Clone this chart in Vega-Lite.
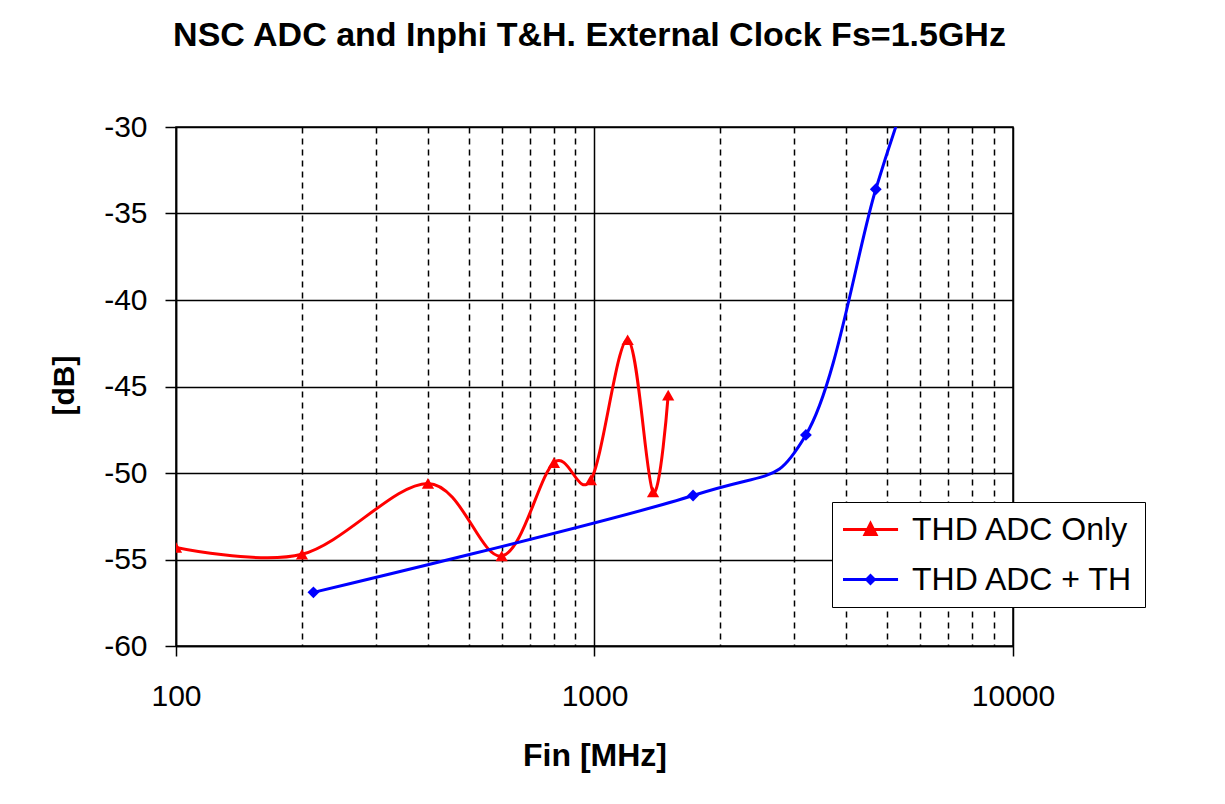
{
  "$schema": "https://vega.github.io/schema/vega-lite/v6.json",
  "width": 837,
  "height": 519,
  "autosize": "none",
  "padding": {"left": 176, "top": 127, "right": 212, "bottom": 158},
  "background": "white",
  "title": {
    "text": "NSC ADC and Inphi T&H. External Clock Fs=1.5GHz",
    "font": "Liberation Sans",
    "fontSize": 34,
    "fontWeight": "bold",
    "color": "black",
    "anchor": "middle",
    "frame": "group",
    "baseline": "alphabetic",
    "offset": 32,
    "dx": -5
  },
  "data": {
    "values": [
      {"fin": 100, "thd": -54.3, "series": "THD ADC Only"},
      {"fin": 200, "thd": -54.7, "series": "THD ADC Only"},
      {"fin": 400, "thd": -50.6, "series": "THD ADC Only"},
      {"fin": 600, "thd": -54.8, "series": "THD ADC Only"},
      {"fin": 800, "thd": -49.4, "series": "THD ADC Only"},
      {"fin": 980, "thd": -50.4, "series": "THD ADC Only"},
      {"fin": 1200, "thd": -42.3, "series": "THD ADC Only"},
      {"fin": 1380, "thd": -51.1, "series": "THD ADC Only"},
      {"fin": 1500, "thd": -45.5, "series": "THD ADC Only"},
      {"fin": 213, "thd": -56.9, "series": "THD ADC + TH"},
      {"fin": 1720, "thd": -51.3, "series": "THD ADC + TH"},
      {"fin": 3200, "thd": -47.8, "series": "THD ADC + TH"},
      {"fin": 4700, "thd": -33.6, "series": "THD ADC + TH"},
      {"fin": 6000, "thd": -26.0, "series": "THD ADC + TH"}
    ]
  },
  "encoding": {
    "x": {
      "field": "fin",
      "type": "quantitative",
      "scale": {"type": "log", "domain": [100, 10000], "nice": false},
      "axis": {
        "values": [100, 200, 300, 400, 500, 600, 700, 800, 900, 1000, 2000, 3000, 4000, 5000, 6000, 7000, 8000, 9000, 10000],
        "format": "d",
        "labelExpr": "indexof([100, 1000, 10000], datum.value) >= 0 ? datum.label : ''",
        "labelFont": "Liberation Sans",
        "labelFontSize": 30,
        "labelColor": "black",
        "labelBaseline": "alphabetic",
        "labelPadding": 49,
        "labelFlush": false,
        "labelOverlap": false,
        "tickSize": 10,
        "tickWidth": 1.5,
        "tickColor": {"condition": {"test": "indexof([100, 1000, 10000], datum.value) >= 0", "value": "black"}, "value": "transparent"},
        "domainColor": "black",
        "domainWidth": 1.5,
        "grid": true,
        "gridColor": "black",
        "gridWidth": 1.5,
        "gridOpacity": 1,
        "gridDash": {"condition": {"test": "indexof([100, 1000, 10000], datum.value) >= 0", "value": []}, "value": [6, 5]},
        "title": "Fin [MHz]",
        "titleFont": "Liberation Sans",
        "titleFontSize": 32,
        "titleFontWeight": "bold",
        "titleColor": "black",
        "titleBaseline": "alphabetic",
        "titleAlign": "center",
        "titleX": 418.5,
        "titleY": 119
      }
    },
    "y": {
      "field": "thd",
      "type": "quantitative",
      "scale": {"domain": [-60, -30], "nice": false, "zero": false},
      "axis": {
        "values": [-60, -55, -50, -45, -40, -35, -30],
        "labelExpr": "'' + datum.value",
        "labelFont": "Liberation Sans",
        "labelFontSize": 30,
        "labelColor": "black",
        "labelPadding": 18,
        "labelFlush": false,
        "labelOverlap": false,
        "tickSize": 11,
        "tickWidth": 1.5,
        "tickColor": "black",
        "domainColor": "black",
        "domainWidth": 1.5,
        "grid": true,
        "gridColor": "black",
        "gridWidth": 1.5,
        "gridOpacity": 1,
        "title": "[dB]",
        "titleFont": "Liberation Sans",
        "titleFontSize": 30,
        "titleFontWeight": "bold",
        "titleColor": "black",
        "titleAngle": -90,
        "titleBaseline": "alphabetic",
        "titleAlign": "center",
        "titleX": -103,
        "titleY": 258
      }
    },
    "color": {
      "field": "series",
      "type": "nominal",
      "scale": {"domain": ["THD ADC Only", "THD ADC + TH"], "range": ["#ff0000", "#0000ff"]},
      "legend": {
        "orient": "none",
        "legendX": 656,
        "legendY": 375,
        "title": null,
        "labelFont": "Liberation Sans",
        "labelFontSize": 32,
        "labelColor": "black",
        "labelLimit": 0,
        "strokeColor": "black",
        "fillColor": "white",
        "padding": 11,
        "symbolSize": 900,
        "symbolStrokeWidth": 3,
        "symbolOpacity": 1,
        "labelOffset": 36,
        "rowPadding": 17
      }
    }
  },
  "layer": [
    {
      "mark": {"type": "line", "interpolate": "cardinal", "tension": 0, "strokeWidth": 3, "clip": true}
    },
    {
      "transform": [{"filter": "datum.series === 'THD ADC Only'"}],
      "mark": {"type": "point", "shape": "triangle-up", "filled": true, "size": 150, "opacity": 1, "clip": true},
      "encoding": {"color": {"value": "#ff0000"}}
    },
    {
      "transform": [{"filter": "datum.series === 'THD ADC + TH'"}],
      "mark": {"type": "point", "shape": "diamond", "filled": true, "size": 140, "opacity": 1, "clip": true},
      "encoding": {"color": {"value": "#0000ff"}}
    },
    {
      "transform": [{"filter": "datum.thd > -30"}],
      "mark": {"type": "point", "filled": false, "opacity": 1, "strokeWidth": 3, "clip": true},
      "encoding": {
        "shape": {
          "field": "series",
          "type": "nominal",
          "scale": {
            "domain": ["THD ADC Only", "THD ADC + TH"],
            "range": [
              "M-1.1,0H2.57M0.367,0.333L1.1,0.333L0.733,-0.4ZM0.586,0.183L0.88,0.183L0.733,-0.11Z",
              "M-1.1,0H2.57M0.476,0L0.733,-0.257L0.99,0L0.733,0.257ZM0.623,0L0.733,-0.11L0.843,0L0.733,0.11Z"
            ]
          },
          "legend": {
            "orient": "none",
            "legendX": 656,
            "legendY": 375,
            "title": null,
            "labelFont": "Liberation Sans",
            "labelFontSize": 32,
            "labelColor": "black",
            "labelLimit": 0,
            "strokeColor": "black",
            "fillColor": "white",
            "padding": 11,
            "symbolSize": 900,
            "symbolStrokeWidth": 3,
            "symbolOpacity": 1,
            "labelOffset": 36,
            "rowPadding": 17
          }
        }
      }
    }
  ],
  "config": {
    "view": {"stroke": "black", "strokeWidth": 1.5, "fill": "white"},
    "font": "Liberation Sans"
  }
}
